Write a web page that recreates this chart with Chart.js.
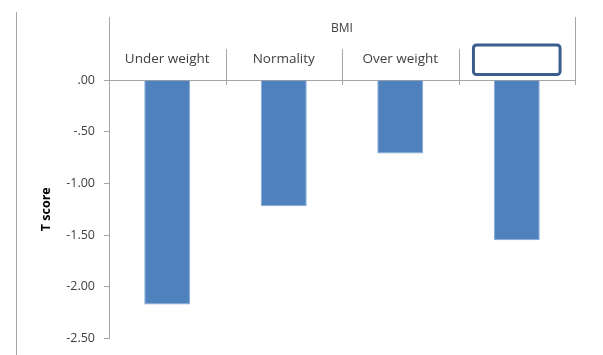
<!DOCTYPE html>
<html><head><meta charset="utf-8">
<script src="https://cdn.jsdelivr.net/npm/chart.js@4.4.0/dist/chart.umd.min.js"></script>
<style>html,body{margin:0;padding:0;background:#fff}#wrap{width:603px;height:355px}</style>
</head><body><div id="wrap"><canvas id="c" width="603" height="355"></canvas></div>
<script>
const categories = ['Under weight', 'Normality', 'Over weight', ''];
const tScores = [-2.17, -1.22, -0.71, -1.55];
const yTicks = [0, -0.5, -1, -1.5, -2, -2.5];
const xTitle = 'BMI';
const yTitle = 'T score';

function fmt(v) {
  let s = Math.abs(v).toFixed(2);
  if (s.startsWith('0.')) s = s.slice(1);
  return (v < 0 ? '-' : '') + s;
}

const LINE = '#a6a6a6';
const TEXT = '#404040';
const FONT = 'Open Sans';

const decor = {
  id: 'decor',
  afterDraw(chart) {
    const ctx = chart.ctx, a = chart.chartArea, xs = chart.scales.x;
    const px = v => Math.round(v) + 0.5;
    const line = (x1, y1, x2, y2) => { ctx.beginPath(); ctx.moveTo(x1, y1); ctx.lineTo(x2, y2); ctx.stroke(); };
    ctx.save();
    ctx.strokeStyle = LINE; ctx.lineWidth = 1;
    line(px(16), 12, px(16), 355);
    line(px(a.left), 17, px(a.left), a.top);
    line(px(a.right), 17, px(a.right), a.top + 5);
    const half = (xs.getPixelForValue(1) - xs.getPixelForValue(0)) / 2;
    for (let i = 1; i < categories.length; i++) {
      const x = px(xs.getPixelForValue(i) - half);
      line(x, 49, x, a.top + 5);
    }
    // selected empty label box
    const cx = xs.getPixelForValue(categories.length - 1);
    ctx.strokeStyle = '#3b5e8e'; ctx.lineWidth = 3;
    ctx.beginPath();
    ctx.roundRect(cx - 43.3, 45, 86.6, 29.5, 3);
    ctx.stroke();
    ctx.restore();
  }
};

new Chart(document.getElementById('c'), {
  type: 'bar',
  data: {
    labels: categories,
    datasets: [{
      data: tScores,
      backgroundColor: '#4f81bd',
      borderColor: '#86a9d8',
      borderWidth: 1,
      categoryPercentage: 1,
      barPercentage: 0.395
    }]
  },
  options: {
    responsive: false,
    animation: false,
    devicePixelRatio: 1,
    layout: { padding: { left: 0, right: 28, top: 0, bottom: 16 } },
    plugins: { legend: { display: false }, tooltip: { enabled: false } },
    scales: {
      x: {
        position: 'top',
        offset: true,
        grid: { display: false, drawTicks: false },
        border: { display: true, color: LINE },
        ticks: { padding: 13, color: TEXT, font: { family: FONT, size: 13.5 }, maxRotation: 0, autoSkip: false },
        title: { display: true, text: xTitle, color: TEXT, font: { family: FONT, size: 12 }, padding: { top: 21, bottom: 0 } },
        afterFit: s => { s.height = 80; }
      },
      y: {
        min: -2.5, max: 0,
        afterBuildTicks: s => { s.ticks = yTicks.map(v => ({ value: v })); },
        grid: { drawOnChartArea: false, drawTicks: true, tickLength: 5, color: LINE },
        border: { display: true, color: LINE },
        ticks: { padding: 9, color: TEXT, font: { family: FONT, size: 12.5 }, callback: v => fmt(v) },
        title: { display: true, text: yTitle, color: '#000', font: { family: FONT, size: 12.5, weight: 'bold' }, padding: { top: 39, bottom: 0 } },
        afterFit: s => { s.width = 109; }
      }
    }
  },
  plugins: [decor]
});
</script>
</body></html>
